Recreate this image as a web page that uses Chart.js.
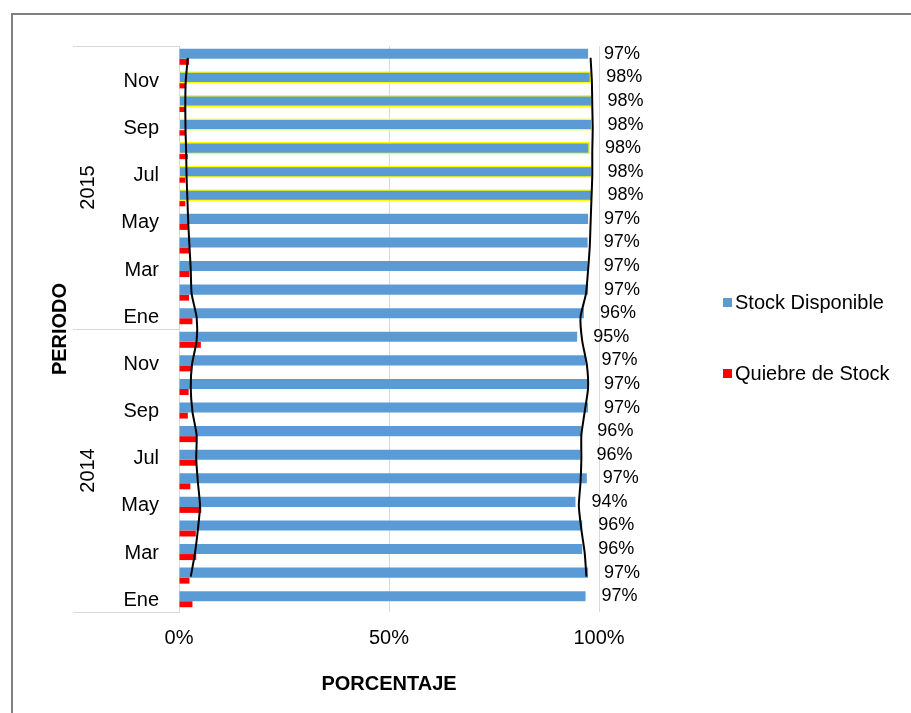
<!DOCTYPE html>
<html>
<head>
<meta charset="utf-8">
<title>Stock Disponible vs Quiebre de Stock</title>
<script src="https://cdn.jsdelivr.net/npm/chart.js@4.4.1/dist/chart.umd.min.js"></script>
<style>
	body { margin: 0; background: #fff; }
	#wrap { width: 911px; height: 713px; position: relative; }
</style>
</head>
<body>
<div id="wrap"><canvas id="myChart"></canvas></div>
<script>
// periodos (de Ene 2014 a Dic 2015)
let meses = ['Ene', 'Feb', 'Mar', 'Abr', 'May', 'Jun', 'Jul', 'Ago', 'Sep', 'Oct', 'Nov', 'Dic']
let anios = ['2014', '2015']

// % de stock disponible por mes
let stockDisponible = [
	96.8, 97.4, 96.0, 96.0, 94.4, 97.1, 95.6, 95.8, 97.4, 97.4, 96.8, 94.8,
	96.4, 97.4, 97.3, 97.3, 97.4, 98.2, 98.2, 97.6, 98.2, 98.2, 97.9, 97.4,
]

// % de quiebre de stock por mes
let quiebreStock = [
	3.2, 2.5, 4.1, 4.0, 5.3, 2.7, 4.3, 4.1, 2.1, 2.3, 3.1, 5.2,
	3.2, 2.4, 2.5, 2.4, 2.1, 1.5, 1.5, 2.1, 1.5, 1.5, 1.5, 2.4,
]

// lineas de tendencia trazadas a mano sobre el grafico
let lineaDisponible = [
	null, 97.0, 96.6, 95.8, 95.2, 95.6, 95.8, 95.8, 96.6, 97.4, 97.1, 96.0,
	95.6, 96.9, 97.4, 97.8, 98.0, 98.2, 98.4, 98.4, 98.5, 98.4, 98.3, 98.0,
]
let lineaQuiebre = [
	null, 2.8, 3.8, 4.5, 5.0, 4.5, 4.1, 4.2, 3.2, 2.8, 3.1, 4.2,
	4.2, 3.0, 2.8, 2.5, 2.2, 2.0, 1.8, 1.7, 1.55, 1.5, 1.6, 2.1,
]

// meses marcados en amarillo
let resaltados = ['Jun 2015', 'Jul 2015', 'Ago 2015', 'Sep 2015', 'Oct 2015', 'Nov 2015']

let etiquetas = anios.flatMap((a) => meses.map((m) => m + ' ' + a))

const FONT = "'Liberation Sans', Arial, sans-serif"
Chart.defaults.font.family = FONT
Chart.defaults.font.size = 20
Chart.defaults.color = '#000'

const azul = '#5b9bd5'
const rojo = '#ff0000'

const extras = {
	id: 'extras',
	beforeDraw(chart) {
		let ctx = chart.ctx
		ctx.save()
		ctx.fillStyle = '#fff'
		ctx.fillRect(0, 0, chart.width, chart.height)
		ctx.strokeStyle = '#808080'
		ctx.lineWidth = 2
		ctx.strokeRect(12, 14, chart.width + 20, chart.height + 20)
		ctx.restore()
	},
	afterDatasetsDraw(chart) {
		let ctx = chart.ctx
		let meta = chart.getDatasetMeta(0)
		ctx.save()
		ctx.font = '18px ' + FONT
		ctx.fillStyle = '#000'
		ctx.textAlign = 'left'
		ctx.textBaseline = 'middle'
		meta.data.forEach((bar, i) => {
			ctx.fillText(Math.round(stockDisponible[i]) + '%', bar.x + 16, bar.y)
		})
		ctx.restore()
	},
	afterDraw(chart) {
		let ctx = chart.ctx
		let y = chart.scales.y
		let area = chart.chartArea
		ctx.save()

		// separadores de año
		ctx.strokeStyle = '#d9d9d9'
		ctx.lineWidth = 1
		for (let k = 0; k <= anios.length; k++) {
			let py = Math.round(y.getPixelForValue(k * 12 - 0.5)) + 0.5
			ctx.beginPath()
			ctx.moveTo(73, py)
			ctx.lineTo(area.left, py)
			ctx.stroke()
		}

		// etiquetas de año
		ctx.fillStyle = '#000'
		ctx.font = '20px ' + FONT
		ctx.textAlign = 'center'
		ctx.textBaseline = 'middle'
		anios.forEach((a, g) => {
			let py = y.getPixelForValue(g * 12 + 5.5)
			ctx.save()
			ctx.translate(88, py)
			ctx.rotate(-Math.PI / 2)
			ctx.fillText(a, 0, 0)
			ctx.restore()
		})

		// titulo eje vertical
		ctx.save()
		ctx.font = 'bold 20px ' + FONT
		ctx.translate(60, (area.top + area.bottom) / 2)
		ctx.rotate(-Math.PI / 2)
		ctx.fillText('PERIODO', 0, 0)
		ctx.restore()

		// leyenda
		ctx.font = '20px ' + FONT
		ctx.textAlign = 'left'
		let items = chart.data.datasets.slice(0, 2)
		items.forEach((ds, i) => {
			let ly = 302 + i * 71
			ctx.fillStyle = ds.backgroundColor
			ctx.fillRect(723, ly - 4, 9, 9)
			ctx.fillStyle = '#000'
			ctx.fillText(ds.label, 735, ly + 1)
		})
		ctx.restore()
	},
}

let ctx = document.getElementById('myChart').getContext('2d')
let grafico = new Chart(ctx, {
	type: 'bar',
	data: {
		labels: etiquetas,
		datasets: [
			{
				label: 'Stock Disponible',
				data: stockDisponible,
				backgroundColor: azul,
				borderColor: etiquetas.map((l) => (resaltados.includes(l) ? '#ffff00' : azul)),
				borderWidth: etiquetas.map((l) => (resaltados.includes(l) ? 1.5 : 0)),
				inflateAmount: etiquetas.map((l) => (resaltados.includes(l) ? 1 : 0)),
				borderSkipped: false,
				barPercentage: 1.25,
				categoryPercentage: 0.68,
			},
			{
				label: 'Quiebre de Stock',
				data: quiebreStock,
				backgroundColor: rojo,
				borderWidth: 0,
				barPercentage: 0.75,
				categoryPercentage: 0.68,
			},
			{
				type: 'line',
				label: 'Tendencia disponible',
				indexAxis: 'y',
				data: lineaDisponible,
				borderColor: '#000',
				borderWidth: 2,
				pointRadius: 0,
				tension: 0.2,
				order: -1,
			},
			{
				type: 'line',
				label: 'Tendencia quiebre',
				indexAxis: 'y',
				data: lineaQuiebre,
				borderColor: '#000',
				borderWidth: 2,
				pointRadius: 0,
				tension: 0.2,
				order: -1,
			},
		],
	},
	options: {
		indexAxis: 'y',
		responsive: true,
		maintainAspectRatio: false,
		animation: false,
		layout: { padding: { left: 0, right: 312, top: 46, bottom: 17 } },
		plugins: {
			legend: { display: false },
			tooltip: { enabled: false },
		},
		scales: {
			x: {
				min: 0,
				max: 100,
				ticks: {
					stepSize: 50,
					padding: 14,
					callback: (v) => v + '%',
				},
				grid: { color: '#d9d9d9', drawTicks: false },
				border: { display: false },
				title: {
					display: true,
					text: 'PORCENTAJE',
					font: { weight: 'bold', size: 20 },
					padding: 0,
				},
				afterFit: (scale) => {
					scale.height = 84
				},
			},
			y: {
				reverse: true,
				ticks: {
					autoSkip: false,
					padding: 20,
					callback: (v, i) => (i % 2 === 0 ? meses[i % 12] : ''),
				},
				grid: { display: false, drawTicks: false },
				border: { display: true, color: '#d9d9d9' },
				afterFit: (scale) => {
					scale.width = 179
				},
			},
		},
	},
	plugins: [extras],
})
</script>
</body>
</html>
